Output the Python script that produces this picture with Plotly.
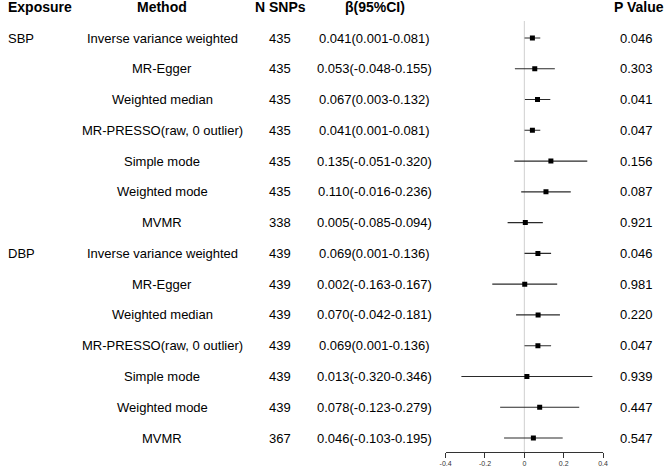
import plotly.graph_objects as go

exposures = ["SBP", "", "", "", "", "", "", "DBP", "", "", "", "", "", ""]
methods = [
    "Inverse variance weighted", "MR-Egger", "Weighted median",
    "MR-PRESSO(raw, 0 outlier)", "Simple mode", "Weighted mode", "MVMR",
    "Inverse variance weighted", "MR-Egger", "Weighted median",
    "MR-PRESSO(raw, 0 outlier)", "Simple mode", "Weighted mode", "MVMR",
]
n_snps = [435, 435, 435, 435, 435, 435, 338, 439, 439, 439, 439, 439, 439, 367]
beta = [0.041, 0.053, 0.067, 0.041, 0.135, 0.110, 0.005,
        0.069, 0.002, 0.070, 0.069, 0.013, 0.078, 0.046]
ci_low = [0.001, -0.048, 0.003, 0.001, -0.051, -0.016, -0.085,
          0.001, -0.163, -0.042, 0.001, -0.320, -0.123, -0.103]
ci_high = [0.081, 0.155, 0.132, 0.081, 0.320, 0.236, 0.094,
           0.136, 0.167, 0.181, 0.136, 0.346, 0.279, 0.195]
p_values = ["0.046", "0.303", "0.041", "0.047", "0.156", "0.087", "0.921",
            "0.046", "0.981", "0.220", "0.047", "0.939", "0.447", "0.547"]
x_ticks = [-0.4, -0.2, 0, 0.2, 0.4]
x_ticklabels = ["-0.4", "-0.2", "0", "0.2", "0.4"]

W, H = 669, 470
rows = list(range(1, len(methods) + 1))

fig = go.Figure()

# zero reference line
fig.add_vline(x=0, line=dict(color="#cfcfcf", width=1), layer="below")

# point estimates with CI
fig.add_trace(
    go.Scatter(
        x=beta,
        y=rows,
        mode="markers",
        marker=dict(symbol="square", size=5, color="black"),
        error_x=dict(
            type="data",
            symmetric=False,
            array=[h - b for b, h in zip(beta, ci_high)],
            arrayminus=[b - l for b, l in zip(beta, ci_low)],
            width=0,
            thickness=1.1,
            color="#2a2a2a",
        ),
        showlegend=False,
        hoverinfo="skip",
    )
)

# column positions (paper fraction)
col_exp = 1 / W
col_method = 159 / W
col_n = 279 / W
col_beta = 375 / W
col_p = 641.5 / W
col_p_head = 644 / W

font_body = dict(family="Liberation Sans, Arial", size=13, color="black")
font_head = dict(family="Liberation Sans, Arial", size=14, color="black")

annotations = []
header_y = 1.0325
for txt, x, anchor in [
    ("<b>Exposure</b>", col_exp, "left"),
    ("<b>Method</b>", col_method, "center"),
    ("<b>N SNPs</b>", col_n, "center"),
    ("<b>β(95%CI)</b>", col_beta, "center"),
    ("<b>P Value</b>", col_p_head, "center"),
]:
    annotations.append(dict(
        text=txt, x=x, y=header_y, xref="paper", yref="paper",
        xanchor=anchor, yanchor="middle", showarrow=False, font=font_head,
        borderpad=0,
    ))

for i, r in enumerate(rows):
    ci_text = f"{beta[i]:.3f}({ci_low[i]:.3f}-{ci_high[i]:.3f})"
    for txt, x, anchor in [
        (exposures[i], col_exp, "left"),
        (methods[i], col_method, "center"),
        (str(n_snps[i]), col_n, "center"),
        (ci_text, col_beta, "center"),
        (p_values[i], col_p, "center"),
    ]:
        if not txt:
            continue
        annotations.append(dict(
            text=txt, x=x, y=r, xref="paper", yref="y",
            xanchor=anchor, yanchor="middle", showarrow=False, font=font_body,
            borderpad=0,
        ))

top_px, bottom_px = 21, 452
row_gap = 400 / 13
y_top = 1 - (38 - top_px) / row_gap
y_bottom = 1 + (bottom_px - 38) / row_gap

fig.update_layout(
    width=W,
    height=H,
    margin=dict(l=0, r=0, t=top_px, b=H - bottom_px),
    paper_bgcolor="white",
    plot_bgcolor="white",
    annotations=annotations,
    xaxis=dict(
        domain=[447 / W, 607 / W],
        range=[-0.4, 0.4],
        tickvals=x_ticks,
        ticktext=x_ticklabels,
        showgrid=False,
        zeroline=False,
        showline=True,
        linecolor="#333333",
        linewidth=1,
        ticks="outside",
        ticklen=5,
        tickcolor="#333333",
        tickfont=dict(family="Liberation Sans, Arial", size=7, color="#333333"),
        fixedrange=True,
    ),
    yaxis=dict(
        range=[y_bottom, y_top],
        visible=False,
        showgrid=False,
        zeroline=False,
        fixedrange=True,
    ),
)

fig.write_html(
    "out.html",
    config={"displayModeBar": False, "responsive": False},
    post_script="document.body.style.margin='0';",
)
